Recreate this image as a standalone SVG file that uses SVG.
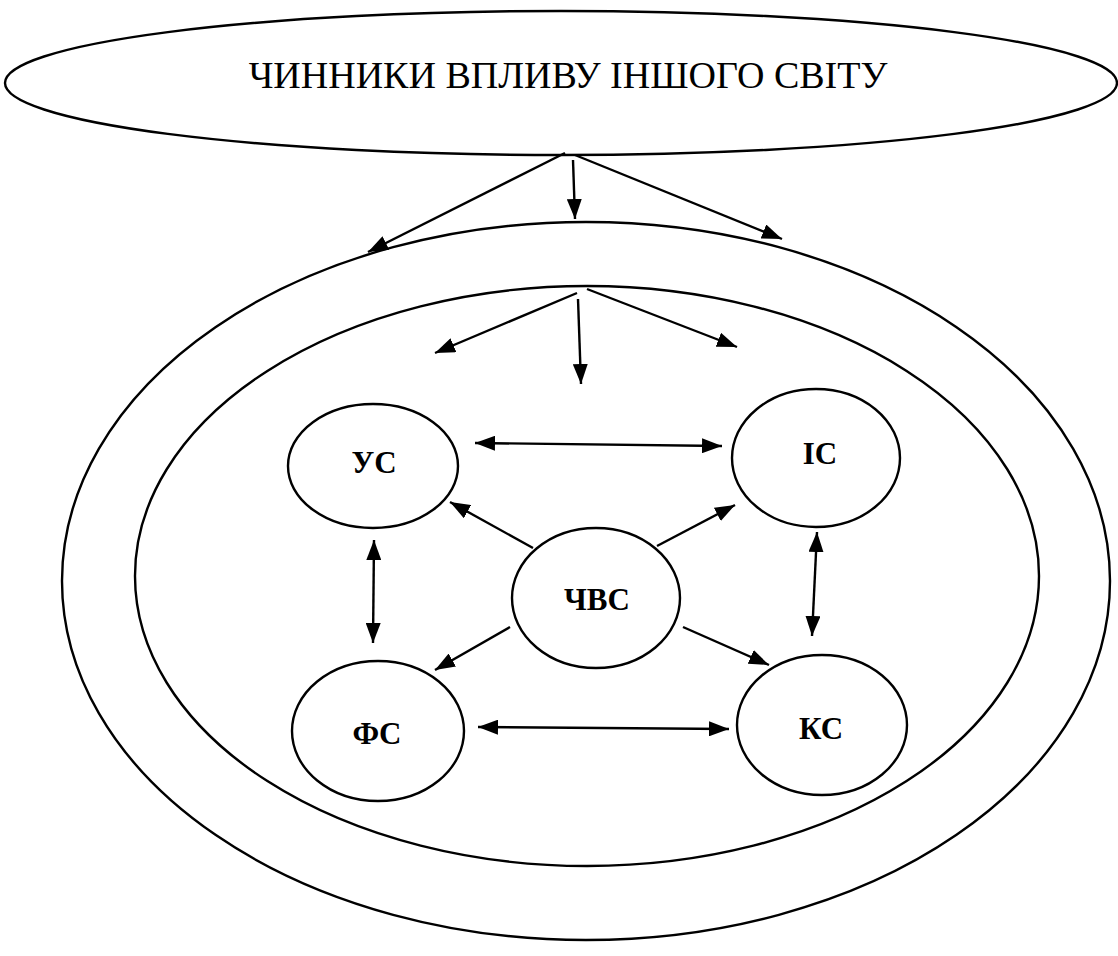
<svg xmlns="http://www.w3.org/2000/svg" width="1118" height="956" viewBox="0 0 1118 956">
<defs>
<style>
.sh{fill:none;stroke:#000;stroke-width:2.4}
.ln{fill:none;stroke:#000;stroke-width:2.4}
.t{font-family:"Liberation Serif","Times New Roman",serif;fill:#000;text-anchor:middle}
.b{font-weight:bold;font-size:31px}
</style>
<marker id="ah" viewBox="0 0 20 15" refX="20" refY="7.5" markerWidth="20" markerHeight="15" markerUnits="userSpaceOnUse" orient="auto-start-reverse">
<path d="M0,0 L20,7.5 L0,15 Z" fill="#000"/>
</marker>
</defs>
<rect width="1118" height="956" fill="#fff"/>
<g id="outer"><ellipse class="sh" cx="586" cy="581" rx="524" ry="359"/></g>
<g id="inner"><ellipse class="sh" cx="587" cy="576" rx="452" ry="290"/></g>
<g id="top">
<ellipse class="sh" cx="561" cy="83" rx="556" ry="72"/>
<text class="t" x="568" y="88" font-size="38">ЧИННИКИ ВПЛИВУ ІНШОГО СВІТУ</text>
</g>
<g id="us"><ellipse class="sh" cx="373" cy="466" rx="85" ry="62"/><text class="t b" x="374" y="473">УС</text></g>
<g id="is"><ellipse class="sh" cx="816" cy="458" rx="84" ry="69"/><text class="t b" x="820" y="464">ІС</text></g>
<g id="chvs"><ellipse class="sh" cx="596" cy="598" rx="84" ry="70"/><text class="t b" x="597" y="610">ЧВС</text></g>
<g id="fs"><ellipse class="sh" cx="378" cy="731" rx="86" ry="70"/><text class="t b" x="377" y="744">ФС</text></g>
<g id="ks"><ellipse class="sh" cx="822" cy="725" rx="85" ry="70"/><text class="t b" x="821" y="739">КС</text></g>
<g id="connectors">
<line class="ln" x1="565" y1="153" x2="368" y2="252" marker-end="url(#ah)"/>
<line class="ln" x1="573" y1="160" x2="575" y2="219" marker-end="url(#ah)"/>
<line class="ln" x1="575" y1="155" x2="782" y2="239" marker-end="url(#ah)"/>
<line class="ln" x1="577" y1="293" x2="435" y2="353" marker-end="url(#ah)"/>
<line class="ln" x1="578" y1="299" x2="581" y2="384" marker-end="url(#ah)"/>
<line class="ln" x1="587" y1="289" x2="737" y2="347" marker-end="url(#ah)"/>
<line class="ln" x1="475" y1="443" x2="722" y2="446" marker-start="url(#ah)" marker-end="url(#ah)"/>
<line class="ln" x1="374" y1="540" x2="373" y2="643" marker-start="url(#ah)" marker-end="url(#ah)"/>
<line class="ln" x1="817" y1="532" x2="812" y2="636" marker-start="url(#ah)" marker-end="url(#ah)"/>
<line class="ln" x1="478" y1="727" x2="729" y2="729" marker-start="url(#ah)" marker-end="url(#ah)"/>
<line class="ln" x1="533" y1="548" x2="450" y2="502" marker-end="url(#ah)"/>
<line class="ln" x1="657" y1="546" x2="735" y2="505" marker-end="url(#ah)"/>
<line class="ln" x1="510" y1="627" x2="435" y2="670" marker-end="url(#ah)"/>
<line class="ln" x1="683" y1="627" x2="769" y2="665" marker-end="url(#ah)"/>
</g>
</svg>
